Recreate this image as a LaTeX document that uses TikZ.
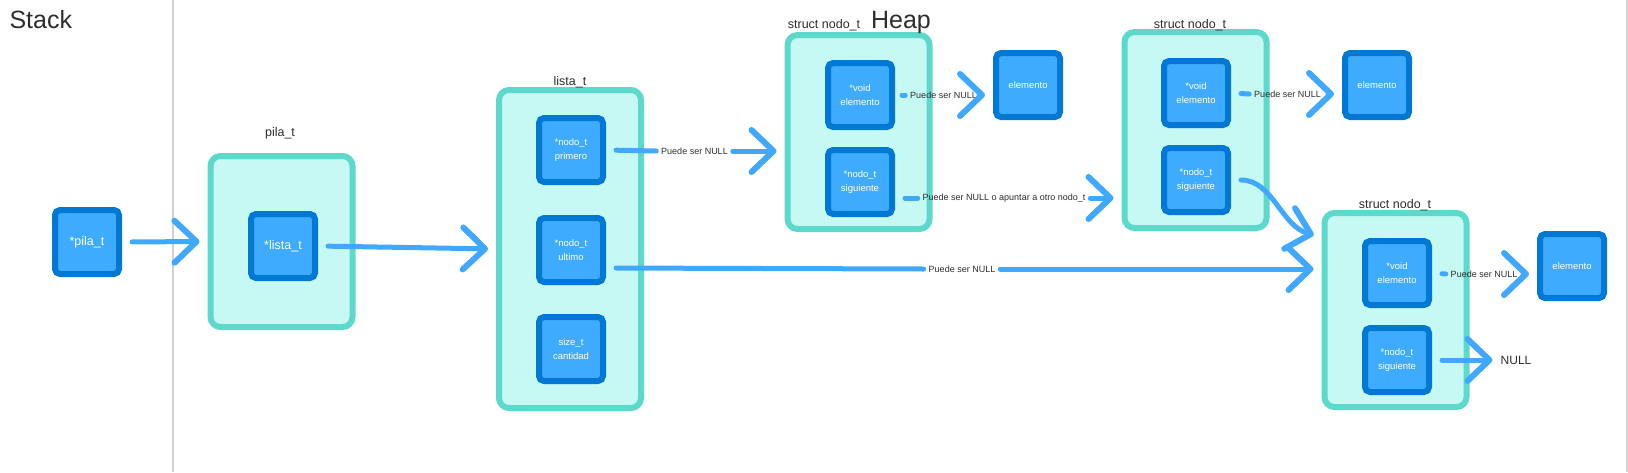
\documentclass[tikz,border=0pt]{standalone}
\usepackage{fontspec}
\setmainfont{Liberation Sans}
\usetikzlibrary{arrows.meta}
\usetikzlibrary{shapes}

\definecolor{campofondo}{RGB}{62,171,255}
\definecolor{campoborde}{RGB}{0,120,212}
\definecolor{regfondo}{RGB}{198,249,243}
\definecolor{regborde}{RGB}{93,217,204}
\definecolor{flecha}{RGB}{64,169,255}
\definecolor{texto}{RGB}{45,45,45}
\definecolor{divisor}{RGB}{208,208,208}

\begin{document}
\begin{tikzpicture}[x=1pt, y=-1pt,
   campo/.style = {draw=campoborde, fill=campofondo, line width=6pt, rounded corners=5pt,
      minimum width=64pt, minimum height=64pt, inner sep=0pt, outer sep=3pt,
      text=white, align=center, font=\fontsize{9.5}{13.3}\selectfont},
   puntero/.style = {campo, font=\fontsize{12.5}{14}\selectfont},
   registro/.style = {draw=regborde, fill=regfondo, line width=6pt, rounded corners=10pt,
      inner sep=0pt, outer sep=3pt, minimum width=142pt, minimum height=194pt},
   titulo/.style = {text=texto, anchor=base, font=\fontsize{12.5}{14}\selectfont},
   zona/.style = {text=texto, anchor=base, font=\fontsize{25}{28}\selectfont},
   etiqueta/.style = {text=texto, inner sep=0pt, outer sep=5pt, font=\fontsize{9}{11}\selectfont},
   tramo/.style = {draw=flecha, line width=5pt, line cap=round, shorten <=10pt},
   punta/.style = {-{Straight Barb[length=22pt, width=42pt, line width=6pt, round]}, shorten >=8pt}]
   \useasboundingbox (0,0) rectangle (1628,472);
   \draw[divisor, line width=1.5pt] (173,0) -- (173,472);
   \draw[divisor, line width=1.5pt] (1627,0) -- (1627,472);

   \node[registro, minimum height=171pt] (pila) at (281.5,241.5) {};
   \node[registro, minimum height=318pt] (lista) at (570,249) {};
   \node[registro] (nodoA) at (858.5,132) {};
   \node[registro, minimum height=196pt] (nodoB) at (1195.5,130) {};
   \node[registro] (nodoC) at (1395.5,310) {};

   \node[titulo] (tpila) at (280,136) {pila\_t};
   \node[titulo] (tlista) at (570,85) {lista\_t};
   \node[titulo] (tnodoA) at (824,28) {struct nodo\_t};
   \node[titulo] (tnodoB) at (1190,28) {struct nodo\_t};
   \node[titulo] (tnodoC) at (1395,208) {struct nodo\_t};
   \node[zona, anchor=base west] (stack) at (6,28) {Stack};
   \node[zona] (heap) at (901,28) {Heap};

   \node[puntero] (pilaptr) at (87,242) {*pila\_t};
   \node[puntero] (listaptr) at (283,246) {*lista\_t};
   \node[campo] (primero) at (571,150) {*nodo\_t\\primero};
   \node[campo] (ultimo) at (571,250) {*nodo\_t\\ultimo};
   \node[campo] (cantidad) at (571,349) {size\_t\\cantidad};
   \node[campo] (voidA) at (860,95) {*void\\elemento};
   \node[campo] (sigA) at (860,182) {*nodo\_t\\siguiente};
   \node[campo] (elemA) at (1028,85) {elemento};
   \node[campo] (voidB) at (1196,93) {*void\\elemento};
   \node[campo] (sigB) at (1196,180) {*nodo\_t\\siguiente};
   \node[campo] (elemB) at (1377,85) {elemento};
   \node[campo] (voidC) at (1397,273) {*void\\elemento};
   \node[campo] (sigC) at (1397,360) {*nodo\_t\\siguiente};
   \node[campo] (elemC) at (1572,266) {elemento};

   \node[etiqueta] (lblA) at (694.5,151) {Puede ser NULL};
   \node[etiqueta] (lblB) at (943.5,95) {Puede ser NULL};
   \node[etiqueta] (lblC) at (1004,198) {Puede ser NULL o apuntar a otro nodo\_t};
   \node[etiqueta] (lblD) at (1287.5,94) {Puede ser NULL};
   \node[etiqueta] (lblE) at (962,269) {Puede ser NULL};
   \node[etiqueta] (lblF) at (1484,274) {Puede ser NULL};
   \node[text=texto, inner sep=0pt, font=\fontsize{12}{14}\selectfont] (null) at (1516,360) {NULL};

   \draw[tramo, punta] (pilaptr.east) -- (pila.west);
   \draw[tramo, punta] (listaptr.east) -- (lista.west);
   \draw[tramo] (primero.east) -- (lblA.west);
   \draw[tramo, punta, shorten <=0pt] (lblA.east) -- (lblA -| nodoA.west);
   \draw[tramo, shorten <=7pt] (voidA.east) -- (lblB.west);
   \draw[tramo, punta, shorten <=0pt] ([xshift=-12pt]lblB -| elemA.west) -- (lblB -| elemA.west);
   \draw[tramo] ([yshift=-16pt]sigA.east) -- (lblC.west);
   \draw[tramo, punta, shorten <=0pt] (lblC.east) -- (lblC -| nodoB.west);
   \draw[tramo] (voidB.east) -- (lblD.west);
   \draw[tramo, punta, shorten <=0pt] ([xshift=-12pt]lblD -| elemB.west) -- (lblD -| elemB.west);
   \draw[tramo, punta] (sigB.east) to[out=0, in=165] ([yshift=-27pt]nodoC.north west);
   \draw[tramo] ([yshift=-18pt]ultimo.east) -- (lblE.west);
   \draw[tramo, punta, shorten <=0pt] (lblE.east) -- (lblE -| nodoC.west);
   \draw[tramo] (voidC.east) -- (lblF.west);
   \draw[tramo, punta, shorten <=0pt] ([xshift=-12pt]lblF -| elemC.west) -- (lblF -| elemC.west);
   \draw[tramo, punta] (sigC.east) -- (null.west);
\end{tikzpicture}
\end{document}
